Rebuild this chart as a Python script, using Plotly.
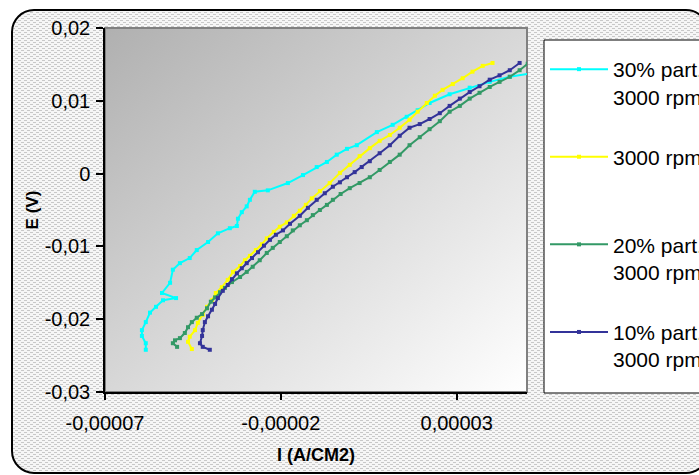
import base64
import plotly.graph_objects as go

# ---------------- data ----------------
series_names = ["30% part.<br>3000 rpm", "3000 rpm<br> ", "20% part.<br>3000 rpm", "10% part.<br>3000 rpm"]

# current density I (A/cm2) and potential E (V)
cur30_i = [-5.84e-5, -5.84e-5, -5.95e-5, -5.95e-5, -5.84e-5, -5.72e-5, -5.55e-5, -5.35e-5, -4.98e-5, -5.38e-5,
           -5.15e-5, -5.07e-5, -4.87e-5, -4.59e-5, -4.39e-5, -4.07e-5, -3.79e-5, -3.45e-5, -3.25e-5, -3.22e-5,
           -3.11e-5, -2.97e-5, -2.88e-5, -2.74e-5, -2.37e-5, -1.80e-5, -1.37e-5, -0.98e-5, -0.69e-5, -0.41e-5,
           -0.12e-5, 0.16e-5, 0.73e-5, 1.18e-5, 1.58e-5, 1.89e-5, 2.23e-5, 2.80e-5, 3.37e-5, 3.94e-5,
           4.51e-5, 5.13e-5]
cur30_e = [-0.0242, -0.0233, -0.0223, -0.0215, -0.0204, -0.0191, -0.0183, -0.0174, -0.0171, -0.0164,
           -0.0150, -0.0132, -0.0123, -0.0116, -0.0105, -0.0094, -0.0082, -0.0075, -0.0072, -0.0062,
           -0.0053, -0.0045, -0.0036, -0.0025, -0.0023, -0.0013, -0.0002, 0.0009, 0.0016, 0.0026,
           0.0034, 0.0039, 0.0057, 0.0067, 0.0078, 0.0087, 0.0097, 0.0109, 0.0118, 0.0126,
           0.0133, 0.0138]

cur0_i = [-4.53e-5, -4.64e-5, -4.59e-5, -4.44e-5, -4.36e-5, -4.22e-5, -4.10e-5, -3.96e-5, -3.85e-5, -3.68e-5,
          -3.51e-5, -3.36e-5, -3.16e-5, -3.02e-5, -2.88e-5, -2.71e-5, -2.54e-5, -2.40e-5, -2.20e-5, -2.03e-5,
          -1.83e-5, -1.63e-5, -1.46e-5, -1.29e-5, -1.12e-5, -0.89e-5, -0.61e-5, -0.32e-5, -0.04e-5, 0.24e-5,
          0.53e-5, 0.81e-5, 1.10e-5, 1.38e-5, 1.66e-5, 1.89e-5, 2.15e-5, 2.38e-5, 2.60e-5, 2.89e-5,
          3.17e-5, 3.45e-5, 3.74e-5, 4.02e-5]
cur0_e = [-0.0241, -0.0231, -0.0224, -0.0215, -0.0205, -0.0194, -0.0183, -0.0174, -0.0164, -0.0156,
          -0.0146, -0.0135, -0.0127, -0.0119, -0.0113, -0.0105, -0.0097, -0.0089, -0.0080, -0.0073,
          -0.0067, -0.0058, -0.0051, -0.0043, -0.0034, -0.0024, -0.0013, 0.0001, 0.0012, 0.0024,
          0.0035, 0.0045, 0.0053, 0.0063, 0.0074, 0.0085, 0.0097, 0.0107, 0.0115, 0.0123,
          0.0131, 0.0140, 0.0148, 0.0152]

cur20_i = [-4.95e-5, -5.07e-5, -5.01e-5, -4.87e-5, -4.73e-5, -4.64e-5, -4.53e-5, -4.39e-5, -4.24e-5, -4.10e-5,
           -3.99e-5, -3.87e-5, -3.73e-5, -3.59e-5, -3.39e-5, -3.16e-5, -2.97e-5, -2.80e-5, -2.60e-5, -2.40e-5,
           -2.23e-5, -2.03e-5, -1.83e-5, -1.66e-5, -1.46e-5, -1.26e-5, -1.09e-5, -0.89e-5, -0.69e-5, -0.52e-5,
           -0.30e-5, -0.04e-5, 0.24e-5, 0.53e-5, 0.81e-5, 1.10e-5, 1.38e-5, 1.66e-5, 1.95e-5, 2.23e-5,
           2.52e-5, 2.80e-5, 3.09e-5, 3.37e-5, 3.65e-5, 3.94e-5, 4.22e-5, 4.51e-5, 4.79e-5, 5.02e-5]
cur20_e = [-0.0238, -0.0233, -0.0229, -0.0226, -0.0219, -0.0211, -0.0204, -0.0198, -0.0193, -0.0185,
           -0.0176, -0.0170, -0.0163, -0.0157, -0.0149, -0.0142, -0.0135, -0.0128, -0.0119, -0.0109,
           -0.0102, -0.0094, -0.0086, -0.0078, -0.0071, -0.0064, -0.0057, -0.0050, -0.0043, -0.0036,
           -0.0028, -0.0020, -0.0013, -0.0005, 0.0005, 0.0016, 0.0026, 0.0039, 0.0050, 0.0061,
           0.0072, 0.0085, 0.0093, 0.0103, 0.0111, 0.0119, 0.0126, 0.0133, 0.0142, 0.0151]

cur10_i = [-4.02e-5, -4.22e-5, -4.30e-5, -4.24e-5, -4.22e-5, -4.16e-5, -4.07e-5, -3.96e-5, -3.87e-5, -3.79e-5,
           -3.65e-5, -3.51e-5, -3.39e-5, -3.25e-5, -3.11e-5, -2.97e-5, -2.82e-5, -2.65e-5, -2.48e-5, -2.31e-5,
           -2.14e-5, -1.94e-5, -1.74e-5, -1.46e-5, -1.23e-5, -0.98e-5, -0.75e-5, -0.52e-5, -0.32e-5, -0.12e-5,
           0.10e-5, 0.30e-5, 0.53e-5, 0.81e-5, 1.10e-5, 1.38e-5, 1.66e-5, 1.95e-5, 2.23e-5, 2.52e-5,
           2.80e-5, 3.09e-5, 3.37e-5, 3.65e-5, 3.94e-5, 4.22e-5, 4.51e-5, 4.79e-5]
cur10_e = [-0.0242, -0.0238, -0.0233, -0.0223, -0.0215, -0.0204, -0.0196, -0.0187, -0.0179, -0.0171,
           -0.0161, -0.0153, -0.0145, -0.0137, -0.0130, -0.0123, -0.0116, -0.0108, -0.0099, -0.0091,
           -0.0084, -0.0078, -0.0069, -0.0058, -0.0047, -0.0036, -0.0027, -0.0018, -0.0012, -0.0005,
           0.0002, 0.0009, 0.0017, 0.0028, 0.0039, 0.0052, 0.0063, 0.0068, 0.0075, 0.0083,
           0.0093, 0.0103, 0.0112, 0.0120, 0.0129, 0.0135, 0.0142, 0.0152]

x_tick_vals = [-0.00007, -0.00002, 0.00003]
x_tick_text = ["-0,00007", "-0,00002", "0,00003"]
y_tick_vals = [0.02, 0.01, 0, -0.01, -0.02, -0.03]
y_tick_text = ["0,02", "0,01", "0", "-0,01", "-0,02", "-0,03"]

series_x = [cur30_i, cur0_i, cur20_i, cur10_i]
series_y = [cur30_e, cur0_e, cur20_e, cur10_e]
colors = ["#00FFFF", "#FFFF00", "#339966", "#333399"]

FONT = "Liberation Sans, Arial, sans-serif"

# ---------------- styling images ----------------
W, H = 699, 475
L, R, T, B = 105, 172, 28, 83
PW, PH = W - L - R, H - T - B

paper_svg = f'''<svg xmlns="http://www.w3.org/2000/svg" width="{W}" height="{H}" viewBox="0 0 {W} {H}">
<defs><pattern id="p" width="6" height="4" patternUnits="userSpaceOnUse">
<rect width="6" height="4" fill="#f6f6f6"/>
<rect x="0" y="0" width="3" height="1" fill="#c8c8c8"/>
<rect x="3" y="2" width="3" height="1" fill="#c8c8c8"/>
</pattern></defs>
<rect x="12" y="10" width="696" height="463" rx="22" ry="22" fill="url(#p)" stroke="#000" stroke-width="2"/>
</svg>'''

plot_svg = f'''<svg xmlns="http://www.w3.org/2000/svg" width="{PW}" height="{PH}" viewBox="0 0 {PW} {PH}" preserveAspectRatio="none">
<defs><linearGradient id="g" x1="0" y1="0" x2="1" y2="1">
<stop offset="0" stop-color="#b0b0b0"/><stop offset="1" stop-color="#ffffff"/></linearGradient></defs>
<rect width="{PW}" height="{PH}" fill="url(#g)"/></svg>'''


def uri(svg):
    return "data:image/svg+xml;base64," + base64.b64encode(svg.encode()).decode()


def px(xp):
    return (xp - L) / PW


def py(yp):
    return (H - B - yp) / PH


fig = go.Figure()
for name, xs, ys, c in zip(series_names, series_x, series_y, colors):
    fig.add_trace(go.Scatter(
        x=xs, y=ys, name=name, mode="lines+markers", legendgroup=name,
        line=dict(color=c, width=2),
        marker=dict(symbol="square", size=4, color=c, line=dict(width=0)),
    ))

fig.update_layout(
    width=W, height=H,
    margin=dict(l=L, r=R, t=T, b=B, autoexpand=False),
    paper_bgcolor="white", plot_bgcolor="rgba(0,0,0,0)",
    font=dict(family=FONT, size=20, color="black"),
    showlegend=True,
    legend=dict(x=px(545), y=py(49), xanchor="left", yanchor="top",
                bgcolor="rgba(0,0,0,0)", borderwidth=0,
                font=dict(family=FONT, size=21), valign="top", tracegroupgap=30,
                itemwidth=58, traceorder="grouped"),
    images=[
        dict(source=uri(paper_svg), xref="paper", yref="paper", x=-L / PW, y=1 + T / PH,
             sizex=W / PW, sizey=H / PH, xanchor="left", yanchor="top", sizing="stretch", layer="below"),
        dict(source=uri(plot_svg), xref="paper", yref="paper", x=0, y=1, sizex=1, sizey=1,
             xanchor="left", yanchor="top", sizing="stretch", layer="below"),
    ],
    shapes=[
        dict(type="rect", xref="paper", yref="paper", x0=0, x1=1, y0=0, y1=1,
             line=dict(color="#808080", width=2), layer="below"),
        dict(type="rect", xref="paper", yref="paper", x0=px(544), x1=px(715), y0=py(393), y1=py(40),
             line=dict(color="black", width=1), fillcolor="white", layer="below"),
    ],
)
fig.update_xaxes(range=[-0.00007, 0.00005], tickvals=x_tick_vals, ticktext=x_tick_text,
                 showgrid=False, zeroline=False, showline=True, linecolor="black", linewidth=1.5,
                 ticks="outside", ticklen=6, tickcolor="black", tickwidth=1.5, ticklabelstandoff=6,
                 title=dict(text="<b>I (A/CM2)</b>", font=dict(size=18), standoff=16))
fig.update_yaxes(range=[-0.03, 0.02], tickvals=y_tick_vals, ticktext=y_tick_text,
                 showgrid=False, zeroline=False, showline=True, linecolor="black", linewidth=1.5,
                 ticks="outside", ticklen=7, tickcolor="black", tickwidth=1.5, ticklabelstandoff=2,
                 title=dict(text="<b>E (V)</b>", font=dict(size=17), standoff=2))

fig.write_html("out.html", config={"displayModeBar": False},
               post_script="document.body.style.margin='0';")
